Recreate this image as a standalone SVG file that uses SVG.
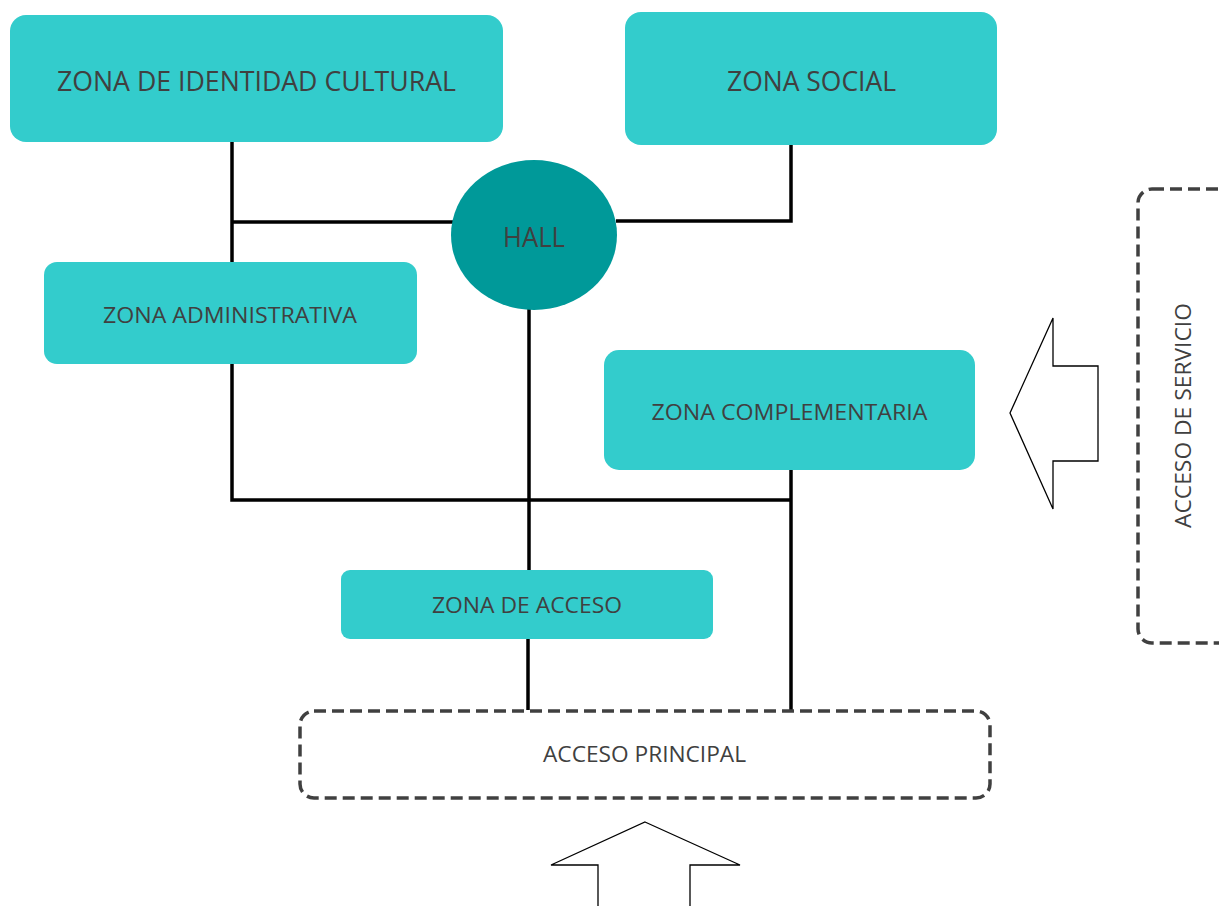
<svg xmlns="http://www.w3.org/2000/svg" width="1219" height="906" viewBox="0 0 1219 906">
<style>
.zone{fill:#33CCCC;}
.hall{fill:#009999;}
.lbl{font-family:"Open Sans","Liberation Sans",sans-serif;fill:#404040;text-anchor:middle;}
.big{font-size:28px;}
.mid{font-size:22px;}
.dash{fill:none;stroke:#404040;stroke-width:3.5;stroke-dasharray:12 6;}
.conn{fill:none;stroke:#000;stroke-width:3.5;}
.arrow{fill:#fff;stroke:#000;stroke-width:1.3;}
</style>
<rect width="1219" height="906" fill="#fff"/>
<g id="connectors">
<path class="conn" d="M232 142 V262"/>
<path class="conn" d="M232 222 H453"/>
<path class="conn" d="M616 221 H791 V145"/>
<path class="conn" d="M232 364 V500 H791"/>
<path class="conn" d="M791 470 V710"/>
<path class="conn" d="M529 309 V570"/>
<path class="conn" d="M528 639 V710"/>
</g>
<g id="zona-identidad">
<rect class="zone" x="10" y="15" width="493" height="127" rx="16"/>
<text class="lbl big" x="256.5" y="91" textLength="399" lengthAdjust="spacingAndGlyphs">ZONA DE IDENTIDAD CULTURAL</text>
</g>
<g id="zona-social">
<rect class="zone" x="625" y="12" width="372" height="133" rx="16"/>
<text class="lbl big" x="811.5" y="91" textLength="169" lengthAdjust="spacingAndGlyphs">ZONA SOCIAL</text>
</g>
<g id="hall">
<ellipse class="hall" cx="534" cy="235" rx="83" ry="75"/>
<text class="lbl big" x="534" y="247" textLength="62" lengthAdjust="spacingAndGlyphs">HALL</text>
</g>
<g id="zona-administrativa">
<rect class="zone" x="44" y="262" width="373" height="102" rx="13"/>
<text class="lbl mid" x="230" y="322.5" textLength="254" lengthAdjust="spacingAndGlyphs">ZONA ADMINISTRATIVA</text>
</g>
<g id="zona-complementaria">
<rect class="zone" x="604" y="350" width="371" height="120" rx="15"/>
<text class="lbl mid" x="789.5" y="420" textLength="276" lengthAdjust="spacingAndGlyphs">ZONA COMPLEMENTARIA</text>
</g>
<g id="zona-acceso">
<rect class="zone" x="341" y="570" width="372" height="69" rx="9"/>
<text class="lbl mid" x="527" y="613" textLength="190" lengthAdjust="spacingAndGlyphs">ZONA DE ACCESO</text>
</g>
<g id="acceso-principal">
<rect class="dash" x="300" y="711" width="690" height="87" rx="14"/>
<text class="lbl mid" x="644.5" y="762" textLength="203" lengthAdjust="spacingAndGlyphs">ACCESO PRINCIPAL</text>
</g>
<g id="acceso-servicio">
<rect class="dash" x="1138" y="189" width="100" height="454" rx="14"/>
<text class="lbl mid" transform="translate(1191 415.5) rotate(-90)" x="0" y="0" textLength="225" lengthAdjust="spacingAndGlyphs">ACCESO DE SERVICIO</text>
</g>
<g id="flecha-servicio">
<polygon class="arrow" points="1010,413 1053,318 1053,366 1098,366 1098,461 1053,461 1053,509"/>
</g>
<g id="flecha-principal">
<polygon class="arrow" points="645,822 740,865 690,865 690,910 598,910 598,865 551,865"/>
</g>
</svg>
